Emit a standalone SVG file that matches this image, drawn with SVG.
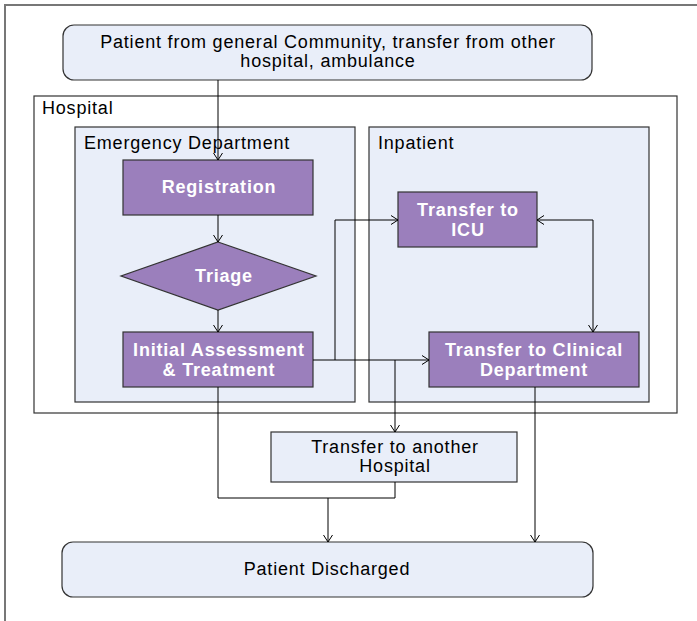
<svg xmlns="http://www.w3.org/2000/svg" width="697" height="621" viewBox="0 0 697 621">
<defs>
<marker id="arr" markerWidth="12" markerHeight="12" refX="10" refY="6" orient="auto" markerUnits="userSpaceOnUse">
<path d="M3,1.5 L10,6 L3,10.5" fill="none" stroke="#000" stroke-width="1"/>
</marker>
<marker id="arrs" markerWidth="12" markerHeight="12" refX="10" refY="6" orient="auto-start-reverse" markerUnits="userSpaceOnUse">
<path d="M3,1.5 L10,6 L3,10.5" fill="none" stroke="#000" stroke-width="1"/>
</marker>
</defs>
<style>
.t{font-family:"Liberation Sans",Arial,sans-serif;font-size:18px;letter-spacing:0.8px;fill:#000}
.w{font-family:"Liberation Sans",Arial,sans-serif;font-size:18px;letter-spacing:0.8px;font-weight:bold;fill:#fff}
.lite{fill:#E9EEF9;stroke:#333;stroke-width:1.2}
.purp{fill:#9B7FBC;stroke:#333;stroke-width:1.2}
.cont{fill:#fff;stroke:#333;stroke-width:1.2}
.c{fill:none;stroke:#000;stroke-width:1}
</style>
<rect width="697" height="621" fill="#fff"/>
<path d="M5,621 V5 H697" fill="none" stroke="#777" stroke-width="2"/>
<g id="hospital">
<rect class="cont" x="34" y="96" width="643" height="317"/>
<text class="t" x="42" y="114">Hospital</text>
</g>
<g id="emergency">
<rect class="lite" x="75" y="127" width="280" height="275"/>
<text class="t" x="84" y="149">Emergency Department</text>
</g>
<g id="inpatient">
<rect class="lite" x="369" y="127" width="280" height="275"/>
<text class="t" x="378" y="149">Inpatient</text>
</g>
<g id="source">
<rect class="lite" x="63" y="25" width="529" height="55" rx="11"/>
<text class="t" x="328" y="48" text-anchor="middle">Patient from general Community, transfer from other</text>
<text class="t" x="328" y="67" text-anchor="middle">hospital, ambulance</text>
</g>
<g id="registration">
<rect class="purp" x="123" y="160" width="190" height="55"/>
<text class="w" x="219" y="193" text-anchor="middle">Registration</text>
</g>
<g id="triage">
<polygon class="purp" points="218,242 316,276 218,310 121,276"/>
<text class="w" x="224" y="282" text-anchor="middle">Triage</text>
</g>
<g id="initial">
<rect class="purp" x="123" y="332" width="190" height="55"/>
<text class="w" x="219" y="356" text-anchor="middle">Initial Assessment</text>
<text class="w" x="219" y="376" text-anchor="middle">&amp; Treatment</text>
</g>
<g id="icu">
<rect class="purp" x="398" y="192" width="139" height="55"/>
<text class="w" x="468" y="216" text-anchor="middle">Transfer to</text>
<text class="w" x="468" y="236" text-anchor="middle">ICU</text>
</g>
<g id="clinical">
<rect class="purp" x="429" y="332" width="210" height="55"/>
<text class="w" x="534" y="356" text-anchor="middle">Transfer to Clinical</text>
<text class="w" x="534" y="376" text-anchor="middle">Department</text>
</g>
<g id="another">
<rect class="lite" x="271" y="432" width="246" height="50"/>
<text class="t" x="395" y="453" text-anchor="middle">Transfer to another</text>
<text class="t" x="395" y="472" text-anchor="middle">Hospital</text>
</g>
<g id="discharged">
<rect class="lite" x="62" y="542" width="531" height="55" rx="11"/>
<text class="t" x="327" y="575" text-anchor="middle">Patient Discharged</text>
</g>
<g id="connectors">
<path class="c" d="M218,80 V160" marker-end="url(#arr)"/>
<path class="c" d="M218,215 V242" marker-end="url(#arr)"/>
<path class="c" d="M218,310 V332" marker-end="url(#arr)"/>
<path class="c" d="M313,360 H429" marker-end="url(#arr)"/>
<path class="c" d="M335,360 V220 H398" marker-end="url(#arr)"/>
<path class="c" d="M395,360 V432" marker-end="url(#arr)"/>
<path class="c" d="M537,220 H593 V332" marker-start="url(#arrs)" marker-end="url(#arrs)"/>
<path class="c" d="M218,387 V498 H395 V482"/>
<path class="c" d="M328,498 V542" marker-end="url(#arr)"/>
<path class="c" d="M535,387 V542" marker-end="url(#arr)"/>
</g>
</svg>
